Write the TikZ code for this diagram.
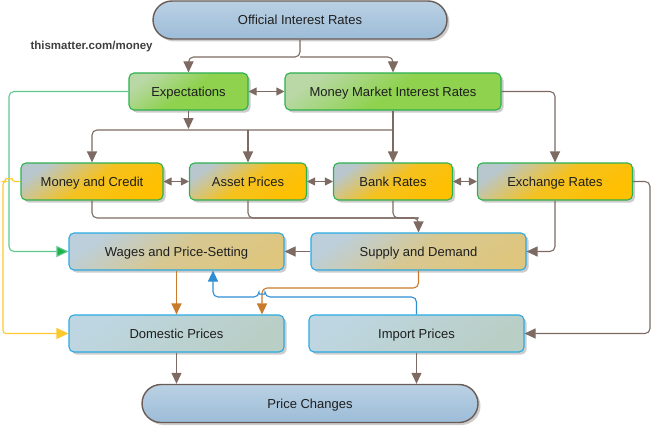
\documentclass[tikz,border=0pt]{standalone}
\usepackage{fontspec}
\setmainfont{Liberation Sans}
\usetikzlibrary{arrows.meta,shadows,calc}
\definecolor{connc}{HTML}{7D6A63}
\definecolor{txtc}{HTML}{1E1E1E}
\definecolor{capbrd}{HTML}{6B5B55}
\definecolor{captop}{HTML}{BAD1E3}
\definecolor{capbot}{HTML}{9CBCD8}
\definecolor{gbrd}{HTML}{2DB04F}
\definecolor{gtop}{HTML}{B9D8A6}
\definecolor{gbot}{HTML}{8ED24E}
\definecolor{otop}{HTML}{B8C7CE}
\definecolor{obot}{HTML}{FFC000}
\definecolor{bbrd}{HTML}{2AAAE2}
\definecolor{ttop}{HTML}{BCCFDA}
\definecolor{tbot}{HTML}{DEC67F}
\definecolor{ltop}{HTML}{BED6E2}
\definecolor{lbot}{HTML}{B9CEC4}
\definecolor{greenl}{HTML}{5FC98C}
\definecolor{greena}{HTML}{1DB04B}
\definecolor{yell}{HTML}{FFC92E}
\definecolor{orng}{HTML}{C77B2B}
\definecolor{blu}{HTML}{2F8ED2}
\definecolor{wm}{HTML}{3F3F3F}
\tikzset{
  x=1pt, y=-1pt,
  shad/.style={drop shadow={shadow xshift=2.5pt, shadow yshift=-2.5pt, fill=black, opacity=0.2}},
  base/.style={draw, line width=1.1pt, rounded corners=5pt, minimum height=37pt,
    inner sep=0pt, text height=11pt, text depth=1.7pt,
    font=\fontsize{13}{15}\selectfont, text=txtc, shad},
  gbox/.style={base, draw=gbrd, top color=gtop, bottom color=gbot, middle color=gbot, shading angle=35},
  obox/.style={base, draw=gbrd, top color=otop, bottom color=obot, middle color=obot!85!otop, shading angle=35},
  tbox/.style={base, draw=bbrd, top color=ttop, bottom color=tbot, middle color=tbot!80!ttop, shading angle=35},
  lbox/.style={base, draw=bbrd, top color=ltop, bottom color=lbot, shading angle=35},
  capsule/.style={draw=capbrd, line width=1.4pt, rounded corners=19pt, minimum height=38pt,
    inner sep=0pt, text height=11pt, text depth=1.7pt,
    font=\fontsize{13}{15}\selectfont, text=txtc, top color=captop, bottom color=capbot, shad},
  conn/.style={draw=connc, line width=1.1pt, rounded corners=5pt},
  arr/.style={conn, -{Triangle[length=11pt,width=10pt]}},
  darr/.style={draw=connc, line width=1.1pt, {Triangle[length=8pt,width=8pt]}-{Triangle[length=8pt,width=8pt]}},
}
\begin{document}
\begin{tikzpicture}
\useasboundingbox (0,0) rectangle (652,425);

% nodes
\node[capsule, minimum width=294pt] (OIR) at (300,20) {Official Interest Rates};
\node[font=\bfseries\fontsize{11.5}{13}\selectfont, text=wm, anchor=west] (wmk) at (27,47) {thismatter.com/money};
\node[gbox, minimum width=119pt] (EXP) at (188.5,91.5) {Expectations};
\node[gbox, minimum width=216pt] (MMIR) at (393,91.5) {Money Market Interest Rates};
\node[obox, minimum width=142pt] (MC) at (92,181.5) {Money and Credit};
\node[obox, minimum width=117pt] (AP) at (248,181.5) {Asset Prices};
\node[obox, minimum width=119pt] (BR) at (393,181.5) {Bank Rates};
\node[obox, minimum width=155pt] (ER) at (555,181.5) {Exchange Rates};
\node[tbox, minimum width=215pt] (WPS) at (176.5,251.5) {Wages and Price-Setting};
\node[tbox, minimum width=215pt] (SD) at (418.5,251.5) {Supply and Demand};
\node[lbox, minimum width=215pt] (DP) at (176.5,333.5) {Domestic Prices};
\node[lbox, minimum width=215pt] (IP) at (416.5,333.5) {Import Prices};
\node[capsule, minimum width=336pt] (PC) at (310,403.5) {Price Changes};

% coordinates
\coordinate (j1) at (300,57);
\coordinate (h1) at (393,130);
\coordinate (h2) at (418.5,218);
\coordinate (gx) at (9,0);
\coordinate (yx) at (3,0);
\coordinate (o1) at (262,288);
\coordinate (b1) at (265,297);
\coordinate (b2) at (213,297);
\coordinate (rx) at (650,0);

% top
\draw[arr] (OIR.south) -- (j1) -| (EXP.north);
\draw[arr] (j1) -| (MMIR.north);
\draw[darr] (EXP.east) -- (MMIR.west);
\draw[arr] (EXP.south) -- (EXP.south |- 0,129);
\draw[arr] (MMIR.south) -- (BR.north);
\draw[arr] (h1) -| (MC.north);
\draw[arr] (AP.north |- h1) -- (AP.north);
\draw[arr] (MMIR.east) -| (ER.north);

% row 3
\draw[darr] (MC.east) -- (AP.west);
\draw[darr] (AP.east) -- (BR.west);
\draw[darr] (BR.east) -- (ER.west);
\draw[arr] (MC.south) |- (h2) -- (SD.north);
\draw[conn] (AP.south) |- (h2);
\draw[conn] (BR.south) |- (h2);
\draw[arr] (ER.south) |- (SD.east);
\draw[arr] (SD.west) -- (WPS.east);

% green
\draw[draw=greenl, line width=1.1pt, rounded corners=5pt, -{Triangle[length=12pt,width=11pt,fill=greena]}]
  (EXP.west) -| (gx |- WPS.west) -- (WPS.west);
% yellow with hop
\draw[draw=yell, line width=1.1pt, rounded corners=3pt, -{Triangle[length=12pt,width=11pt]}]
  (MC.west) -- (12,181.5) arc[start angle=0, end angle=180, radius=3pt] -- (yx |- MC.west)
  |- (DP.west);

% orange
\draw[draw=orng, line width=1.1pt, -{Triangle[length=11pt,width=10pt]}] (WPS.south) -- (DP.north);
\draw[draw=orng, line width=1.1pt, rounded corners=5pt, -{Triangle[length=11pt,width=10pt]}]
  (SD.south) |- (o1) -- (DP.north -| o1);
% blue with hop
\draw[draw=blu, line width=1.1pt, rounded corners=5pt, -{Triangle[length=11pt,width=10pt]}]
  (IP.north) |- (b1) arc[start angle=0, end angle=180, radius=3pt] -- (b2) -- (WPS.south -| b2);

% exchange rates to import prices
\draw[arr] (ER.east) -| (rx |- IP.east) -- (IP.east);

% to price changes
\draw[arr] (DP.south) -- (DP.south |- PC.north);
\draw[arr] (IP.south) -- (IP.south |- PC.north);
\end{tikzpicture}
\end{document}
